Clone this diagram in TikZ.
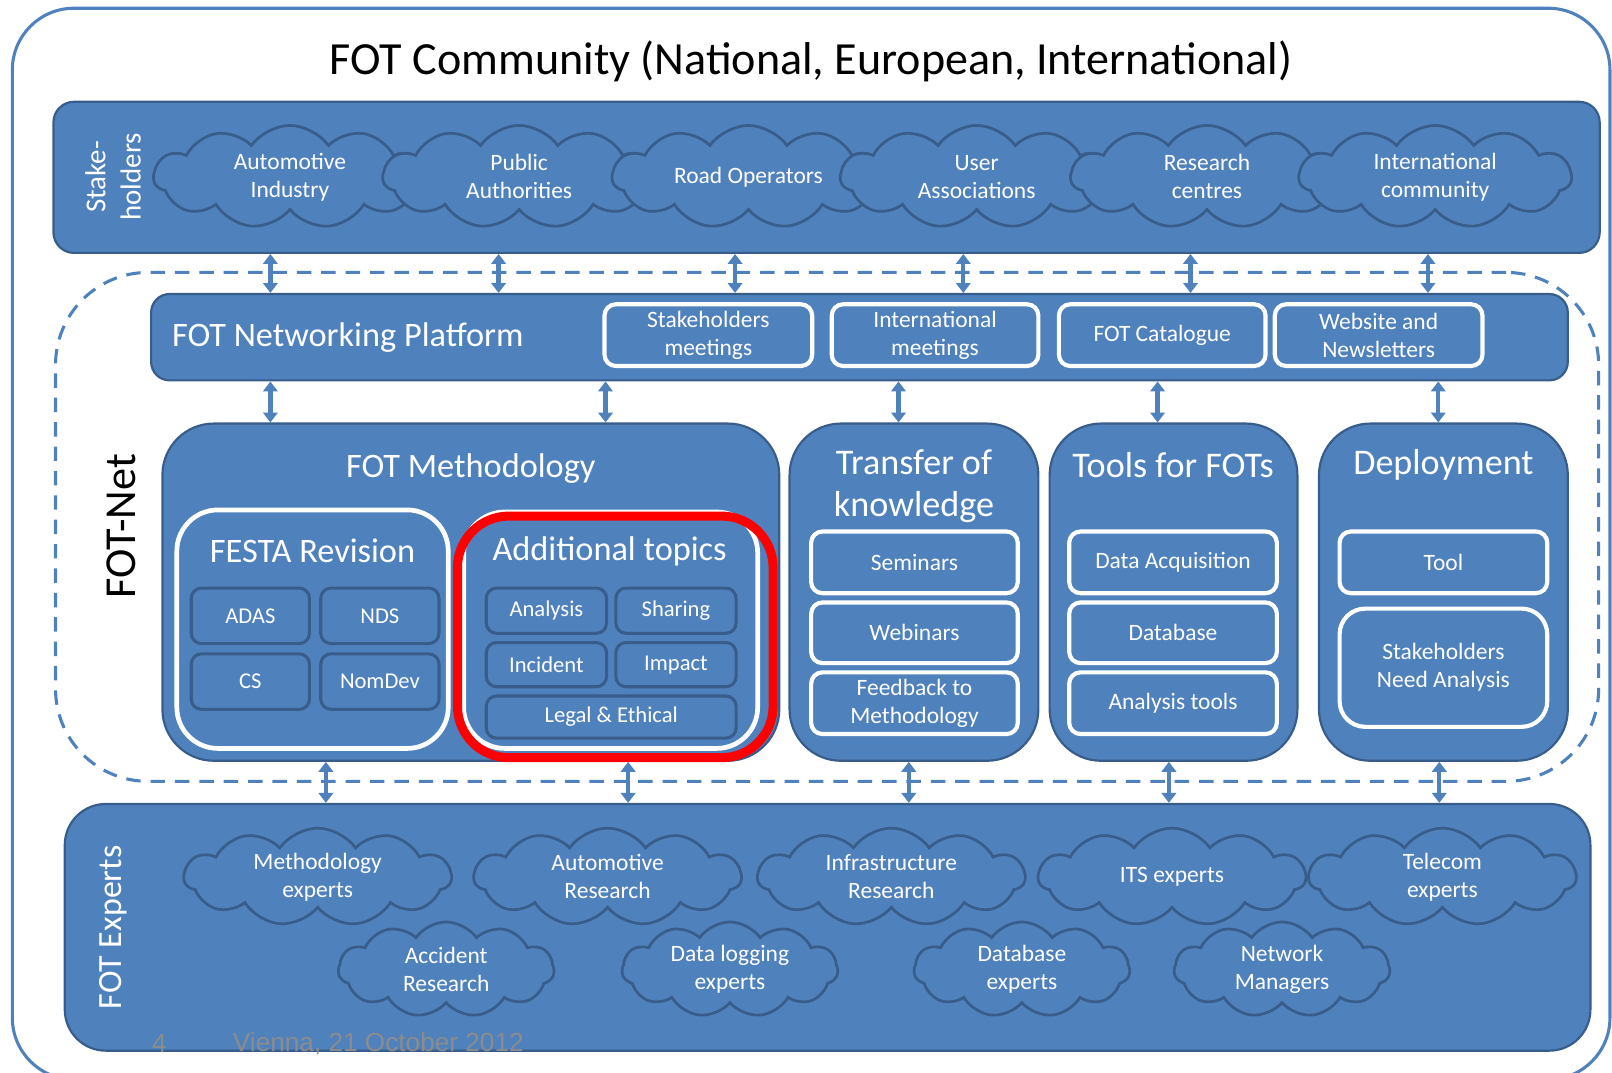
\documentclass[tikz,border=0pt]{standalone}
\usepackage{fontspec}
\setmainfont{Carlito}
\newfontfamily\footfont{Liberation Sans}
\usetikzlibrary{shapes.symbols,fit,arrows.meta}
\definecolor{fotblue}{HTML}{4F81BD}
\definecolor{fotdark}{HTML}{385D8A}
\definecolor{footgrey}{HTML}{8C8C8C}
\begin{document}
\begin{tikzpicture}[x=0.02cm,y=-0.02cm,
  panel/.style={draw=fotdark, fill=fotblue, line width=1.2pt, inner sep=0pt},
  wbox/.style={draw=white, fill=fotblue, line width=2.3pt, inner sep=0pt, rounded corners=0.22cm},
  dbox/.style={draw=fotdark, fill=fotblue, line width=1.7pt, inner sep=0pt, rounded corners=0.2cm},
  wtext/.style={text=white, align=center, inner sep=0pt, font=\fontsize{13}{15.5}\selectfont},
  dtext/.style={text=white, align=center, inner sep=0pt, font=\fontsize{12.5}{15}\selectfont},
  cloudnode/.style={cloud, cloud puffs=11, cloud puff arc=110, cloud ignores aspect, draw=fotdark, fill=fotblue, line width=1.5pt, text=white, align=center, inner sep=0pt, font=\fontsize{13}{15.5}\selectfont},
  bigcloud/.style={cloudnode, minimum width=5.3cm, minimum height=2cm},
  expcloud/.style={cloudnode, minimum width=5.2cm, minimum height=1.9cm},
  smallcloud/.style={cloudnode, minimum width=4.2cm, minimum height=1.85cm},
  link/.style={{Triangle[width=8pt,length=5.5pt]}-{Triangle[width=8pt,length=5.5pt]}, draw=fotblue, line width=2.4pt},
  paneltitle/.style={text=white, align=center, inner sep=0pt, font=\fontsize{20}{23}\selectfont},
  subtitle/.style={text=white, align=center, inner sep=0pt, font=\fontsize{19}{22}\selectfont}
]
\useasboundingbox (0,0) rectangle (1568,1043);

% outer frame and title
\node[draw=fotblue, line width=1.7pt, rounded corners=1.2cm, inner sep=0pt, fit={(12,8)(1566,1050)}] (frame) {};
\node[inner sep=0pt, font=\fontsize{25.5}{29}\selectfont] (title) at (789,60) {FOT Community (National, European, International)};

% stakeholders
\node[panel, rounded corners=0.4cm, fit={(52,99)(1556,246)}] (stk) {};
\node[rotate=90, text=white, align=center, inner sep=0pt, font=\fontsize{16}{19.5}\selectfont] (stklab) at (110,172) {Stake-\\holders};
\node[bigcloud] (c1) at (282,172) {Automotive\\Industry};
\node[bigcloud] (c2) at (505,172) {Public\\Authorities};
\node[bigcloud] (c3) at (728,172) {Road Operators};
\node[bigcloud] (c4) at (950,172) {User\\Associations};
\node[bigcloud] (c5) at (1174,172) {Research\\centres};
\node[bigcloud] (c6) at (1396,172) {International\\community};

% FOT-Net dashed region
\node[draw=fotblue, dash pattern=on 8pt off 5.5pt, line width=1.7pt, rounded corners=1.8cm, inner sep=0pt, fit={(54,265)(1555,760)}] (fotnet) {};
\node[rotate=90, inner sep=0pt, font=\fontsize{24.5}{28}\selectfont] (netlab) at (118,512) {FOT-Net};

% networking platform
\node[panel, rounded corners=0.36cm, fit={(147,286)(1525,370)}] (plat) {};
\node[anchor=west, text=white, inner sep=0pt, font=\fontsize{19}{22}\selectfont] (platlab) at (167,328) {FOT Networking Platform};
\node[wbox, fit={(588,296)(790,356)}] (ps1) {};
\node[wtext] (ps1t) at (ps1.center) {Stakeholders\\meetings};
\node[wbox, fit={(809,296)(1010,356)}] (ps2) {};
\node[wtext] (ps2t) at (ps2.center) {International\\meetings};
\node[wbox, fit={(1030,296)(1231,356)}] (ps3) {};
\node[wtext] (ps3t) at (ps3.center) {FOT Catalogue};
\node[wbox, fit={(1240,296)(1442,356)}] (ps4) {};
\node[wtext] (ps4t) at (ps4.center) {Website and\\Newsletters};

% FOT Methodology
\node[panel, rounded corners=1cm, fit={(158,412)(758,740)}] (meth) {};
\node[subtitle] (methlab) at (458,456) {FOT Methodology};
\node[draw=white, fill=fotblue, line width=2.6pt, rounded corners=0.8cm, inner sep=0pt, fit={(172,496)(436,728)}] (festa) {};
\node[subtitle] (festalab) at (304,536) {FESTA Revision};
\node[dbox, fit={(186,572)(301,626)}] (adas) {};
\node[dtext] at (adas.center) (adast) {ADAS};
\node[dbox, fit={(312,572)(427,626)}] (nds) {};
\node[dtext] at (nds.center) (ndst) {NDS};
\node[dbox, fit={(186,636)(301,690)}] (cs) {};
\node[dtext] at (cs.center) (cst) {CS};
\node[dbox, fit={(312,636)(427,690)}] (nomdev) {};
\node[dtext] at (nomdev.center) (nomdevt) {NomDev};

\node[draw=white, fill=fotblue, line width=2.6pt, rounded corners=0.8cm, inner sep=0pt, fit={(451,498)(737,728)}] (addt) {};
\node[subtitle] (addtlab) at (593,536) {Additional topics};
\node[dbox, fit={(473,572)(590,616)}] (ana) {};
\node[dtext] at (ana.center) (anat) {Analysis};
\node[dbox, fit={(599,572)(716,616)}] (sha) {};
\node[dtext] at (sha.center) (shat) {Sharing};
\node[dbox, fit={(473,625)(590,668)}] (inc) {};
\node[dtext] at (inc.center) (inct) {Incident};
\node[dbox, fit={(599,625)(716,668)}] (imp) {};
\node[dtext] at (imp.center) (impt) {Impact};
\node[dbox, fit={(473,677)(716,718)}] (leg) {};
\node[dtext] at (leg.center) (legt) {Legal \& Ethical};
\node[draw=red, line width=5pt, rounded corners=1cm, inner sep=0pt, fit={(445,502)(752,737)}] (redmark) {};

% Transfer of knowledge
\node[panel, rounded corners=1cm, fit={(768,412)(1010,740)}] (tok) {};
\node[paneltitle] (toklab) at (889,473) {Transfer of\\knowledge};
\node[wbox, fit={(789,517)(990,577)}] (sem) {};
\node[wtext] at (sem.center) (semt) {Seminars};
\node[wbox, fit={(789,586)(990,645)}] (web) {};
\node[wtext] at (web.center) (webt) {Webinars};
\node[wbox, fit={(789,654)(990,714)}] (feed) {};
\node[wtext] at (feed.center) (feedt) {Feedback to\\Methodology};

% Tools for FOTs
\node[panel, rounded corners=1cm, fit={(1021,412)(1262,740)}] (tools) {};
\node[paneltitle] (toolslab) at (1141,452) {Tools for FOTs};
\node[wbox, fit={(1040,517)(1242,577)}] (daq) {};
\node[wtext] at (daq.center) (daqt) {Data Acquisition};
\node[wbox, fit={(1040,586)(1242,645)}] (dbs) {};
\node[wtext] at (dbs.center) (dbst) {Database};
\node[wbox, fit={(1040,654)(1242,714)}] (atools) {};
\node[wtext] at (atools.center) (atoolst) {Analysis tools};

% Deployment
\node[panel, rounded corners=1cm, fit={(1283,412)(1525,740)}] (dep) {};
\node[paneltitle] (deplab) at (1404,452) {Deployment};
\node[wbox, fit={(1303,517)(1505,577)}] (tool) {};
\node[wtext] at (tool.center) (toolt) {Tool};
\node[wbox, rounded corners=0.5cm, fit={(1303,592)(1505,707)}] (sna) {};
\node[wtext] at (sna.center) (snat) {Stakeholders\\Need Analysis};

% FOT Experts
\node[panel, rounded corners=0.8cm, fit={(63,782)(1547,1022)}] (exp) {};
\node[rotate=90, text=white, inner sep=0pt, font=\fontsize{18.8}{22}\selectfont] (explab) at (110,902) {FOT Experts};
\node[expcloud] (e1) at (309,853) {Methodology\\experts};
\node[expcloud] (e2) at (591,853) {Automotive\\Research};
\node[expcloud] (e3) at (867,853) {Infrastructure\\Research};
\node[expcloud] (e4) at (1140,853) {ITS experts};
\node[expcloud] (e5) at (1403,853) {Telecom\\experts};
\node[smallcloud] (e6) at (434,943) {Accident\\Research};
\node[smallcloud] (e7) at (710,943) {Data logging\\experts};
\node[smallcloud] (e8) at (994,943) {Database\\experts};
\node[smallcloud] (e9) at (1247,943) {Network\\Managers};

% footer
\node[text=footgrey, inner sep=0pt, font=\footfont\fontsize{14.5}{16}\selectfont] (pagenum) at (155,1015) {4};
\node[text=footgrey, inner sep=0pt, font=\footfont\fontsize{14.5}{16}\selectfont] (footer) at (368,1015) {Vienna, 21 October 2012};

% connectors
\foreach \x in {263,485,715,937,1158,1389}
  \draw[link] (stk.south -| \x,0) -- (plat.north -| \x,0);
\foreach \x in {263,589}
  \draw[link] (plat.south -| \x,0) -- (meth.north -| \x,0);
\draw[link] (plat.south -| 874,0) -- (tok.north -| 874,0);
\draw[link] (plat.south -| 1126,0) -- (tools.north -| 1126,0);
\draw[link] (plat.south -| 1399,0) -- (dep.north -| 1399,0);
\foreach \x in {317,611}
  \draw[link] (meth.south -| \x,0) -- (exp.north -| \x,0);
\draw[link] (tok.south -| 884,0) -- (exp.north -| 884,0);
\draw[link] (tools.south -| 1137,0) -- (exp.north -| 1137,0);
\draw[link] (dep.south -| 1400,0) -- (exp.north -| 1400,0);
\end{tikzpicture}
\end{document}
